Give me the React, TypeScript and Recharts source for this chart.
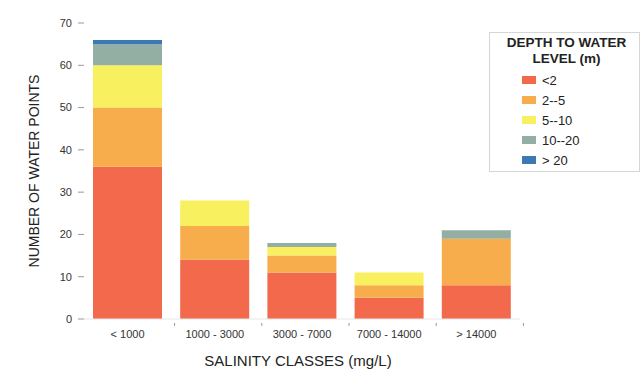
import React from 'react';
import { BarChart, Bar, XAxis, YAxis } from 'recharts';

const categories = ['< 1000', '1000 - 3000', '3000 - 7000', '7000 - 14000', '> 14000'];
const lt2 = [36, 14, 11, 5, 8];
const d2to5 = [14, 8, 4, 3, 11];
const d5to10 = [10, 6, 2, 3, 0];
const d10to20 = [5, 0, 1, 0, 2];
const gt20 = [1, 0, 0, 0, 0];
const yTicks = [0, 10, 20, 30, 40, 50, 60, 70];

const seriesNames = ['<2', '2--5', '5--10', '10--20', '> 20'];
const seriesKeys = ['lt2', 'd2to5', 'd5to10', 'd10to20', 'gt20'];
const seriesColors = ['#F26A4B', '#F7AD4C', '#F8F05E', '#93AEA2', '#3C78B2'];

const data = categories.map((c, i) => ({
  category: c,
  lt2: lt2[i],
  d2to5: d2to5[i],
  d5to10: d5to10[i],
  d10to20: d10to20[i],
  gt20: gt20[i],
}));

const FONT = '"Liberation Sans", Arial, sans-serif';

const XTick = (props: any) => {
  const { x, y, payload } = props;
  return (
    <g>
      <line x1={x + 47} x2={x + 47} y1={y - 4} y2={y - 1} stroke="#999" strokeWidth={1} />
      <text x={x} y={y + 11} textAnchor="middle" fontSize={11} fill="#333" fontFamily={FONT}>
        {payload.value}
      </text>
    </g>
  );
};

const LegendBox = () => (
  <div
    style={{
      position: 'absolute',
      left: 489,
      top: 32,
      width: 151,
      height: 140,
      border: '1px solid #d6d6d6',
      background: '#fff',
      fontFamily: FONT,
      boxSizing: 'border-box',
    }}
  >
    <div
      style={{
        textAlign: 'center',
        fontWeight: 'bold',
        fontSize: 13.5,
        lineHeight: '16px',
        color: '#222',
        marginTop: 2,
        marginLeft: 4,
      }}
    >
      DEPTH TO WATER
      <br />
      LEVEL (m)
    </div>
    <div style={{ marginTop: 3 }}>
      {seriesNames.map((n, i) => (
        <div
          key={n}
          style={{ display: 'flex', alignItems: 'center', height: 20, marginLeft: 32 }}
        >
          <span
            style={{
              display: 'inline-block',
              width: 14,
              height: 8,
              background: seriesColors[i],
              marginRight: 6,
            }}
          />
          <span style={{ fontSize: 13, color: '#222' }}>{n}</span>
        </div>
      ))}
    </div>
  </div>
);

export default function App() {
  return (
    <div style={{ position: 'absolute', left: 0, top: 0, width: 642, height: 375, background: '#fff' }}>
      <BarChart
        width={642}
        height={375}
        data={data}
        margin={{ top: 23, right: 122, bottom: 0, left: 0 }}
        barSize={69}
      >
        <XAxis
          dataKey="category"
          axisLine={{ stroke: '#e6e6e6' }}
          tickLine={false}
          tick={<XTick />}
          interval={0}
          height={56}
          label={{
            value: 'SALINITY CLASSES (mg/L)',
            position: 'insideBottom',
            offset: 9,
            fontSize: 15,
            fill: '#222',
            fontFamily: FONT,
            dx: -4,
          }}
        />
        <YAxis
          domain={[0, 70]}
          ticks={yTicks}
          width={84}
          axisLine={false}
          tickLine={{ stroke: '#999' }}
          tickSize={6}
          tickMargin={6}
          tick={{ fontSize: 11, fill: '#333', fontFamily: FONT }}
          label={{
            value: 'NUMBER OF WATER POINTS',
            angle: -90,
            position: 'insideLeft',
            offset: 34,
            fontSize: 14,
            fill: '#222',
            fontFamily: FONT,
            style: { textAnchor: 'middle' },
          }}
        />
        {seriesKeys.map((k, i) => (
          <Bar
            key={k}
            dataKey={k}
            name={seriesNames[i]}
            stackId="a"
            fill={seriesColors[i]}
            isAnimationActive={false}
          />
        ))}
      </BarChart>
      <LegendBox />
    </div>
  );
}
